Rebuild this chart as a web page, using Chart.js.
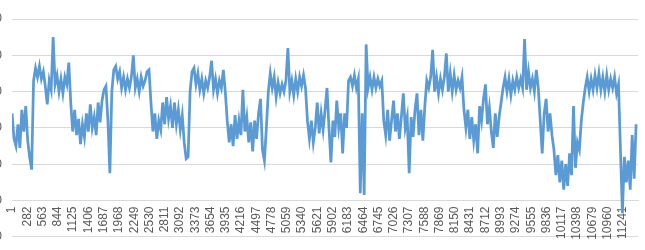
<!DOCTYPE html>
<html><head><meta charset="utf-8">
<script src="https://cdn.jsdelivr.net/npm/chart.js@4"></script>
<style>
html,body{margin:0;padding:0;background:#fff;overflow:hidden;width:645px;height:250px}
#wrap{position:absolute;left:0;top:-14px;width:645px;height:268px}
</style>
</head><body><div id="wrap"><canvas id="c"></canvas></div>
<script>
const titleText = 'Series1';
const tickLabels = [1,282,563,844,1125,1406,1687,1968,2249,2530,2811,3092,3373,3654,3935,4216,4497,4778,5059,5340,5621,5902,6183,6464,6745,7026,7307,7588,7869,8150,8431,8712,8993,9274,9555,9836,10117,10398,10679,10960,11241];
const yTicks = [-10,0,10,20,30,40,50];
const sampleStart = 1, sampleStep = 36, lastCategory = 11520;
const values = [
  24,17,15,21,14.5,25,19,26,16.5,
  12,8.5,
  33,36.5,34,37,33.5,35.5,31.5,26.5,33,30.5,45,32,34.5,30,33.5,29.5,34,32,38,
  27,
  19,25,18,22.5,15.5,21,17.5,24,19,26.5,20,23,18,27,21.5,
  27.5,30.5,31.5,22,7.5,30,
  36,37,33.5,35.5,31,34,30.5,33.5,31,34,40,31,33.5,30,34,31.5,33,35.5,36,
  27,19,
  24,17,22,19.5,27,21,28.5,22.5,26,20,27,21,25,19.5,23.5,
  16,11.5,12,30,35.5,
  36.5,32,35,30.5,33.5,29.5,33,31,34,38.5,30.5,33.5,29.5,33,31,36,
  30,22,
  16,21,15,23.5,17,22,18,30.5,19,23,16,21.5,13.5,22,17,24,28,14,11,
  20,30,
  35,31,34,28.5,32.5,29.5,32,30,33,42,30,33,29,33.5,30,34,31.5,34.5,31,
  22,
  17,22,16,20,27,18.5,24,19.5,25,31,20,10.5,22,17.5,27.5,20,24,13,24,20,
  33,34,31.5,34.5,31,33.5,
  2,24,1.5,43,
  31,34,30.5,34,31,33.5,31.5,33,
  22,
  18,25,16.5,22,27.5,19,24,17,23,29.5,20,23,7.5,23,17.5,25,29.5,18,25,16.5,26,
  33,
  31,34,41.5,30,34,29.5,33.5,30.5,34,40.5,30,35,30,34.5,30.5,33,31,34,
  25,
  20,25,17,23,16.5,21,13,26,22,28,32,21,25.5,19,14.5,24,17.5,23,27,
  31,
  34,30,33.5,29,33,30.5,34,31,33.5,31,44.5,30.5,35.5,31,33.5,30,36,31,
  22,13,
  24,28,19,24,18,
  14,7,12.5,5,11,3,10,4,13,7,26,
  9,16,14,22,27,31,
  34,30,33.5,30.5,34.5,31,35,30.5,34,30,34.5,30.5,33.5,31,34,29.5,32,
  14,
  -3.5,12,5,11,3,18,6,21
];
const points = values.map((v, i) => ({x: sampleStart + i * sampleStep, y: v}));
const labelFont = {family: 'Liberation Sans', size: 12};
new Chart(document.getElementById('c'), {
  type: 'line',
  data: {datasets: [{data: points, borderColor: '#5B9BD5', borderWidth: 2.75, pointRadius: 0, tension: 0, fill: false}]},
  options: {
    responsive: true, maintainAspectRatio: false, animation: false,
    layout: {padding: {top: 0, right: 7, bottom: 0, left: 0}},
    plugins: {
      legend: {display: false}, tooltip: {enabled: false},
      title: {display: true, text: titleText, color: '#595959', font: {family: 'Liberation Sans', size: 14}, padding: {top: 0, bottom: 16.2}}
    },
    scales: {
      x: {
        type: 'linear', min: 0, max: lastCategory, position: {y: 0},
        afterBuildTicks: s => { s.ticks = tickLabels.map(v => ({value: v})); },
        ticks: {autoSkip: false, minRotation: 90, maxRotation: 90, padding: 6, color: '#595959', font: labelFont, callback: v => String(v)},
        grid: {display: false, drawTicks: false},
        border: {display: true, color: '#D9D9D9', width: 1}
      },
      y: {
        min: -10, max: 50,
        afterBuildTicks: s => { s.ticks = yTicks.map(v => ({value: v})); },
        afterFit: s => { s.width = 12; },
        ticks: {padding: 10, color: '#595959', font: labelFont},
        grid: {color: '#D9D9D9', drawTicks: false},
        border: {display: false}
      }
    }
  }
});
</script></body></html>
